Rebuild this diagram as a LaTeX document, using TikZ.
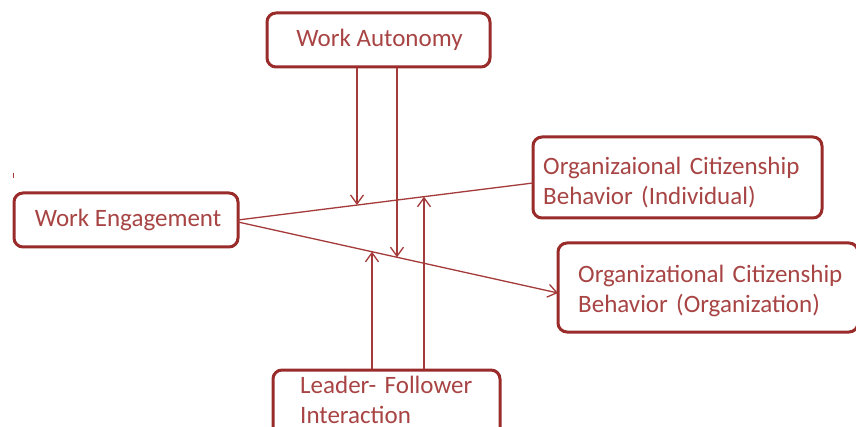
\documentclass[tikz,border=0pt]{standalone}
\usepackage{fontspec}
\setmainfont{Carlito}
\usetikzlibrary{arrows.meta}
\definecolor{boxred}{HTML}{9A2B2B}
\definecolor{txtred}{HTML}{A84444}
\definecolor{linered}{HTML}{A53A3A}
\tikzset{
  box/.style={draw=boxred, line width=3pt, rounded corners=9pt, fill=white},
  lbl/.style={text=txtred, font=\fontsize{25}{30}\selectfont, inner sep=0pt},
  mlbl/.style={lbl, anchor=base west, align=left, text width=300pt},
  conn/.style={draw=linered, line width=1.3pt},
  arr/.style={conn, -{Straight Barb[length=9pt,width=13pt,line width=1.3pt]}}
}
\begin{document}
\begin{tikzpicture}[x=1pt,y=-1pt]
\useasboundingbox (0,0) rectangle (856,427);
\clip (0,0) rectangle (856,427);
\fill[white] (0,0) rectangle (856,427);
% boxes
\node[box, minimum width=223pt, minimum height=54pt] (wa) at (378.5,40) {};
\node[box, minimum width=224pt, minimum height=54pt] (we) at (126,220) {};
\node[box, minimum width=289pt, minimum height=81pt] (ocbi) at (677.5,177.5) {};
\node[box, minimum width=300pt, minimum height=89pt] (ocbo) at (708,287.5) {};
\node[box, minimum width=227pt, minimum height=80pt] (lf) at (386.5,410) {};
% texts
\node[lbl, anchor=base] (wat) at (379.5,47) {Work Autonomy};
\node[lbl, anchor=base] (wet) at (128,227) {Work Engagement};
\node[mlbl] (ocbit) at (543,175) {Organizaional Citizenship\\Behavior (Individual)};
\node[mlbl] (ocbot) at (578,283) {Organizational Citizenship\\Behavior (Organization)};
\node[mlbl] (lft) at (300,393) {Leader- Follower\\Interaction};
% stray mark
\draw[draw=linered, line width=0.8pt] (13,173) -- (13,178);
% main connectors
\coordinate (we1) at (238,220);
\coordinate (we2) at (238,222);
\coordinate (oi) at (533,183);
\coordinate (oo) at (558,293);
\draw[conn] (we1) -- (oi);
\draw[arr] (we2) -- (oo);
% moderators
\coordinate (m1) at (357,205);
\coordinate (m2) at (397,257.3);
\coordinate (m3) at (372,251.7);
\coordinate (m4) at (424,196.7);
\draw[arr] (m1 |- wa.south) -- (m1);
\draw[arr] (m2 |- wa.south) -- (m2);
\draw[arr] (m3 |- lf.north) -- (m3);
\draw[arr] (m4 |- lf.north) -- (m4);
\end{tikzpicture}
\end{document}
